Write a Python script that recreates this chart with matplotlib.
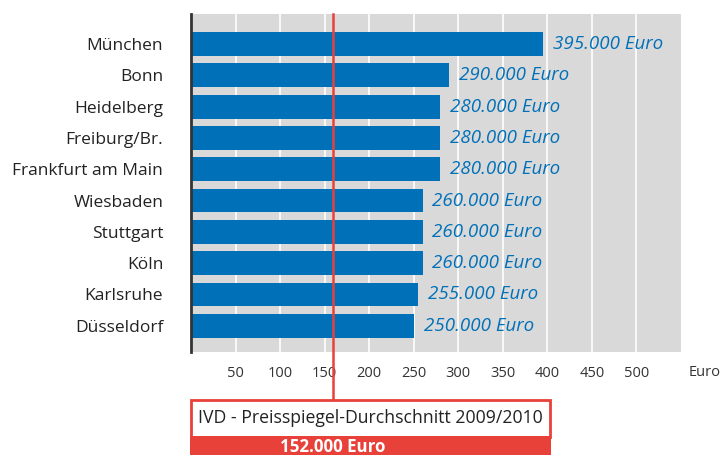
import matplotlib
matplotlib.use("Agg")
import matplotlib.pyplot as plt
from matplotlib.patches import Rectangle
from matplotlib.lines import Line2D

plt.rcParams['font.family'] = ['Open Sans', 'DejaVu Sans']

staedte = ['München', 'Bonn', 'Heidelberg', 'Freiburg/Br.', 'Frankfurt am Main',
           'Wiesbaden', 'Stuttgart', 'Köln', 'Karlsruhe', 'Düsseldorf']
preise = [395, 290, 280, 280, 280, 260, 260, 260, 255, 250]  # in 1000 Euro
ticks = [50, 100, 150, 200, 250, 300, 350, 400, 450, 500]
durchschnitt_pos = 159   # where the red line sits in the picture
durchschnitt_text = '152.000 Euro'
box_titel = 'IVD - Preisspiegel-Durchschnitt 2009/2010'

blau = '#0070b8'
rot = '#e8413a'
grau = '#d9d9d9'

W, H = 721, 455
fig = plt.figure(figsize=(W / 100, H / 100), dpi=100)
ax = fig.add_axes([191 / W, 1 - 352 / H, (681 - 191) / W, (352 - 14) / H])
ax.set_facecolor(grau)

y = list(range(len(staedte)))
ax.barh(y, preise, height=0.76, color=blau, zorder=3)
for yi, p in zip(y, preise):
    ax.text(p + 11, yi, f'{p}.000 Euro', va='center', ha='left', color=blau,
            fontsize=13.5, style='italic', zorder=4)

ax.set_xlim(0, 550)
ax.set_ylim(9.84, -0.96)
ax.set_yticks(y)
ax.set_yticklabels(staedte, fontsize=12.5, color='#222222')
ax.set_xticks(ticks)
ax.set_xticklabels([str(t) for t in ticks], fontsize=10.5, color='#333333')
ax.tick_params(axis='both', length=0)
ax.tick_params(axis='x', pad=10)
ax.tick_params(axis='y', pad=20)
ax.grid(axis='x', color='white', linewidth=1.2, zorder=1)
ax.set_axisbelow(True)
for s in ['top', 'right', 'bottom']:
    ax.spines[s].set_visible(False)
ax.spines['left'].set_color('#333333')
ax.spines['left'].set_linewidth(2)
ax.spines['left'].set_zorder(5)

fig.text(705 / W, 1 - 372 / H, 'Euro', fontsize=10.5, color='#333333',
         ha='center', va='center')

# rote Linie bis zur Box
tr = ax.get_xaxis_transform()
ax.add_line(Line2D([durchschnitt_pos, durchschnitt_pos], [1, -(400 - 352) / 338],
                   transform=tr, color=rot, linewidth=1.8, clip_on=False, zorder=6))

# Box unten
bx0, bx1 = 191 / W, 550 / W
fig.patches.append(Rectangle((bx0, 1 - 437 / H), bx1 - bx0, 37 / H, transform=fig.transFigure,
                             facecolor='white', edgecolor=rot, linewidth=2))
fig.patches.append(Rectangle((bx0 - 0.0015, 0), bx1 - bx0 + 0.003, 1 - 436 / H,
                             transform=fig.transFigure, facecolor=rot, edgecolor='none'))
fig.text((bx0 + bx1) / 2, 1 - 418 / H, box_titel, fontsize=12.7, color='#222222',
         ha='center', va='center')
lx = ax.transData.transform((durchschnitt_pos, 0))[0] / W
fig.text(lx, 1 - 447 / H, durchschnitt_text, fontsize=12.2, color='white',
         weight='bold', ha='center', va='center')

fig.savefig('out.png', dpi=100)
